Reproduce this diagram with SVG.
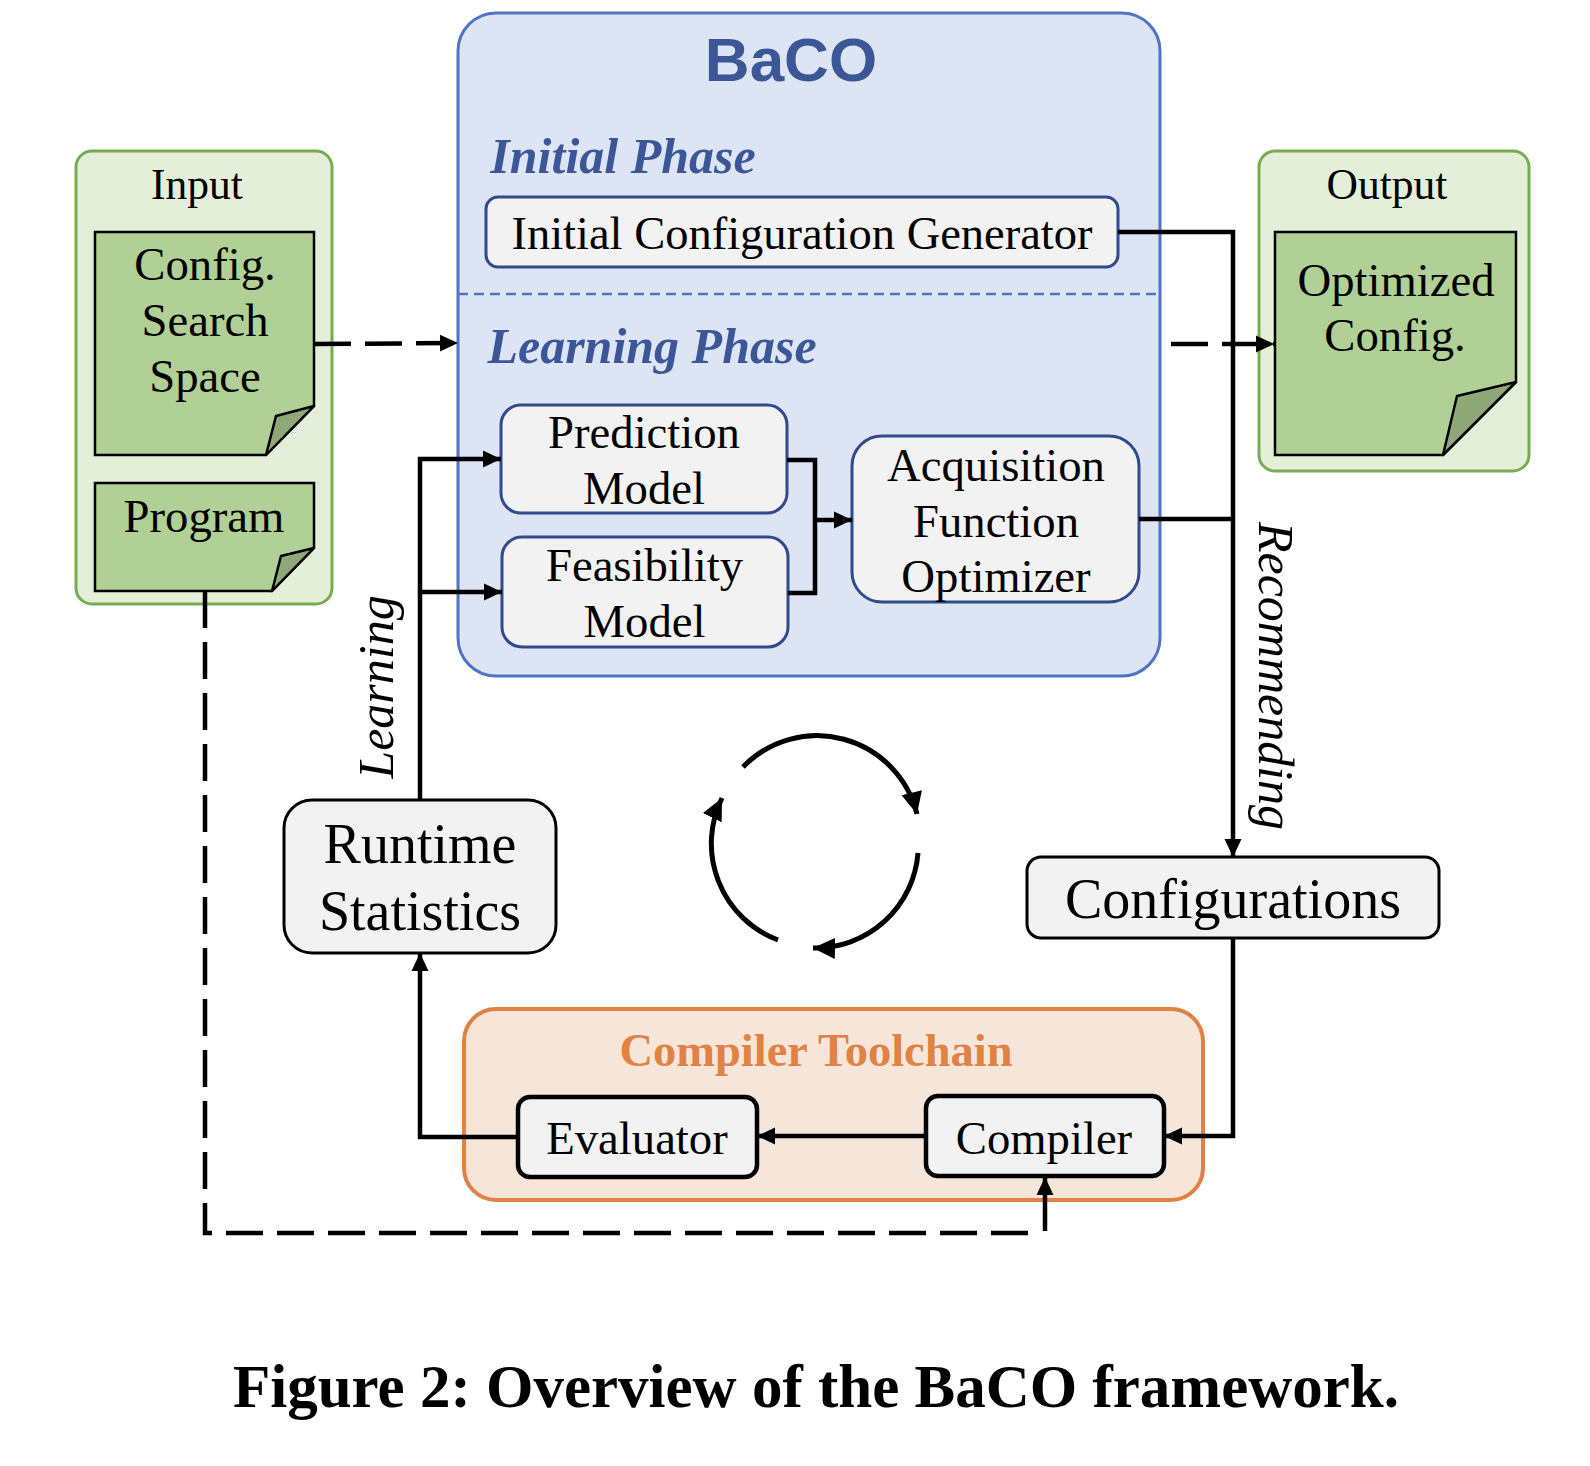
<svg xmlns="http://www.w3.org/2000/svg" width="1590" height="1466" viewBox="0 0 1590 1466">
<style>
text{font-family:"Liberation Serif","Times New Roman",serif;fill:#000;text-anchor:middle}
.t{font-size:46.7px}
.b{fill:#f2f2f2;stroke:#2f4b8c;stroke-width:3}
.g{fill:#b0d095;stroke:#000;stroke-width:2.5}
.f{fill:#8fa878;stroke:#000;stroke-width:2.5;stroke-linejoin:round}
.c{fill:none;stroke:#000;stroke-width:4.5}
.e{fill:none;stroke:#000;stroke-width:5}
.d{fill:none;stroke:#000;stroke-width:4.5;stroke-dasharray:37 14}
.k{fill:#f2f2f2;stroke:#000;stroke-width:3}
.k2{fill:#f2f2f2;stroke:#000;stroke-width:4.5}
.ph{font-size:50px;font-weight:700;font-style:italic;fill:#3b5797}
</style>
<defs>
<marker id="a" markerUnits="userSpaceOnUse" markerWidth="20" markerHeight="18" refX="18" refY="9" orient="auto"><path d="M0 0.5L18 9L0 17.5z" fill="#000"/></marker>
<marker id="l" markerUnits="userSpaceOnUse" markerWidth="24" markerHeight="22" refX="22" refY="11" orient="auto"><path d="M0 0.5L22 11L0 21.500z" fill="#000"/></marker>
</defs>
<rect width="1590" height="1466" fill="#fff"/>
<g id="input">
<rect x="76" y="151" width="256" height="453" rx="16" fill="#e4efd9" stroke="#78ab50" stroke-width="3"/>
<text x="197" y="199" font-size="43.5">Input</text>
</g>
<g id="config-search-space">
<path class="g" d="M95 232H314V406L266 455H95z"/><path class="f" d="M314 406L266 455L276 416z"/>
<text class="t" x="205" y="280">Config.</text><text class="t" x="205" y="336">Search</text><text class="t" x="205" y="392">Space</text>
</g>
<g id="program">
<path class="g" d="M95 483H314V548L272 591H95z"/><path class="f" d="M314 548L272 591L281 556z"/>
<text class="t" x="204" y="532">Program</text>
</g>
<g id="output">
<rect x="1259" y="151" width="270" height="320" rx="16" fill="#e4efd9" stroke="#78ab50" stroke-width="3"/>
<text x="1387" y="199" font-size="43.5">Output</text>
</g>
<g id="optimized-config">
<path class="g" d="M1275 232H1516V382L1443 455H1275z"/><path class="f" d="M1516 382L1443 455L1457 396z"/>
<text class="t" x="1396" y="296">Optimized</text><text class="t" x="1395" y="351">Config.</text>
</g>
<g id="baco">
<rect x="458" y="13" width="702" height="663" rx="38" fill="#dde4f3" stroke="#4f75c4" stroke-width="3"/>
<text x="791" y="81" font-size="62" font-weight="700" style="font-family:'Liberation Sans',Arial,sans-serif;fill:#3b5797">BaCO</text>
<text class="ph" x="623" y="173">Initial Phase</text>
<line x1="458" y1="294" x2="1160" y2="294" stroke="#4f75c4" stroke-width="2.5" stroke-dasharray="10 6"/>
<text class="ph" x="652" y="363">Learning Phase</text>
</g>
<g id="initial-configuration-generator">
<rect class="b" x="486" y="197" width="632" height="70" rx="12"/>
<text x="802" y="249" font-size="46.5">Initial Configuration Generator</text>
</g>
<g id="prediction-model">
<rect class="b" x="501" y="405" width="286" height="108" rx="20"/>
<text class="t" x="644" y="448">Prediction</text><text class="t" x="644" y="504">Model</text>
</g>
<g id="feasibility-model">
<rect class="b" x="502" y="537" width="286" height="110" rx="20"/>
<text class="t" x="644.500" y="581">Feasibility</text><text class="t" x="644.500" y="637">Model</text>
</g>
<g id="acquisition-function-optimizer">
<rect class="b" x="852" y="436" width="287" height="166" rx="30"/>
<text class="t" x="996" y="481">Acquisition</text><text class="t" x="996" y="537">Function</text><text class="t" x="996" y="592">Optimizer</text>
</g>
<g id="runtime-statistics">
<rect class="k" x="284" y="800" width="272" height="153" rx="28"/>
<text x="420" y="863" font-size="56">Runtime</text><text x="420" y="930" font-size="56">Statistics</text>
</g>
<g id="configurations">
<rect class="k" x="1027" y="857" width="412" height="81" rx="14"/>
<text x="1233" y="918" font-size="56">Configurations</text>
</g>
<g id="compiler-toolchain">
<rect x="464" y="1009" width="739" height="191" rx="32" fill="#f6e5d9" stroke="#e08243" stroke-width="4"/>
<text x="816" y="1066" font-size="46.500" font-weight="700" style="fill:#e08243">Compiler Toolchain</text>
</g>
<g id="evaluator">
<rect class="k2" x="518" y="1097" width="239" height="80" rx="12"/>
<text class="t" x="637" y="1154">Evaluator</text>
</g>
<g id="compiler">
<rect class="k2" x="926" y="1096" width="238" height="80" rx="12"/>
<text class="t" x="1044" y="1154">Compiler</text>
</g>
<g id="connectors">
<path class="d" d="M314 344L458 343" marker-end="url(#a)"/>
<path class="d" d="M1171 344L1274 344" marker-end="url(#a)"/>
<path class="c" d="M1118 232H1233V857" marker-end="url(#a)"/>
<path class="c" d="M1139 519H1233"/>
<path class="c" d="M787 460H815V593H788"/>
<path class="c" d="M815 520H852" marker-end="url(#a)"/>
<path class="c" d="M420 800V459H501" marker-end="url(#a)"/>
<path class="c" d="M420 592H502" marker-end="url(#a)"/>
<path class="c" d="M518 1137H420V953" marker-end="url(#a)"/>
<path class="c" d="M926 1136H757" marker-end="url(#a)"/>
<path class="c" d="M1233 938V1136H1164" marker-end="url(#a)"/>
<path class="d" d="M205 591V1233H1032"/>
<path class="c" d="M1045 1231V1177" marker-end="url(#a)"/>
<path class="e" d="M743 767A103 103 0 0 1 917 814" marker-end="url(#l)"/>
<path class="e" d="M918 853A103 103 0 0 1 813 948" marker-end="url(#l)"/>
<path class="e" d="M778 940A103 103 0 0 1 722 798" marker-end="url(#l)"/>
</g>
<text transform="translate(393 687) rotate(-90)" font-size="50" font-style="italic">Learning</text>
<text transform="translate(1259 676) rotate(90)" font-size="50" font-style="italic">Recommending</text>
<text x="816" y="1407" font-size="61" font-weight="700">Figure 2: Overview of the BaCO framework.</text>
</svg>
